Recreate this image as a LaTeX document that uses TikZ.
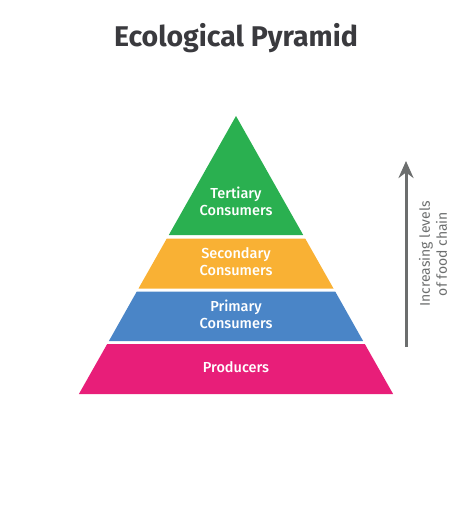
\documentclass[tikz,border=0pt]{standalone}
\usepackage{fontspec}
\setmainfont{Fira Sans}
\newfontfamily\mediumfont{Fira Sans Medium}
\usetikzlibrary{arrows.meta}

\definecolor{titlegray}{RGB}{58,58,62}
\definecolor{arrowgray}{RGB}{108,110,110}
\definecolor{tertiarygreen}{RGB}{42,176,80}
\definecolor{secondaryyellow}{RGB}{249,177,52}
\definecolor{primaryblue}{RGB}{74,133,199}
\definecolor{producerpink}{RGB}{232,30,121}

\begin{document}
\begin{tikzpicture}[>={Stealth[length=17pt,width=15pt]}, x=1pt, y=-1pt,
  levelname/.style={white, align=center, font=\mediumfont\fontsize{14.5}{17}\selectfont}]
  \useasboundingbox (0,0) rectangle (474,505);

  \node [titlegray, font=\fontsize{28.5}{32}\selectfont\bfseries] (title) at (236,38) {Ecological Pyramid};

  % pyramid bands
  \fill [tertiarygreen]   (236,116)     -- (303.2,235)   -- (168.8,235)   -- cycle;
  \fill [secondaryyellow] (166.8,238.5) -- (305.2,238.5) -- (333.5,288.5) -- (138.5,288.5) -- cycle;
  \fill [primaryblue]     (136.8,291.5) -- (335.2,291.5) -- (363.1,341)   -- (108.9,341)   -- cycle;
  \fill [producerpink]    (107.2,344)   -- (364.8,344)   -- (393.1,394)   -- (78.9,394)    -- cycle;

  \node [levelname] (tertiary)  at (236,201) {Tertiary\\Consumers};
  \node [levelname] (secondary) at (236,262) {Secondary\\Consumers};
  \node [levelname] (primary)   at (236,314) {Primary\\Consumers};
  \node [levelname] (producers) at (236,367) {Producers};

  % food chain arrow
  \coordinate (chainbase) at (406,347);
  \coordinate (chaintip)  at (406,161);
  \draw [->, arrowgray, line width=3pt] (chainbase) -- (chaintip);
  \node [rotate=90, arrowgray, align=center, font=\fontsize{14}{17}\selectfont] (chain) at (433,254) {Increasing levels\\of food chain};
\end{tikzpicture}
\end{document}
